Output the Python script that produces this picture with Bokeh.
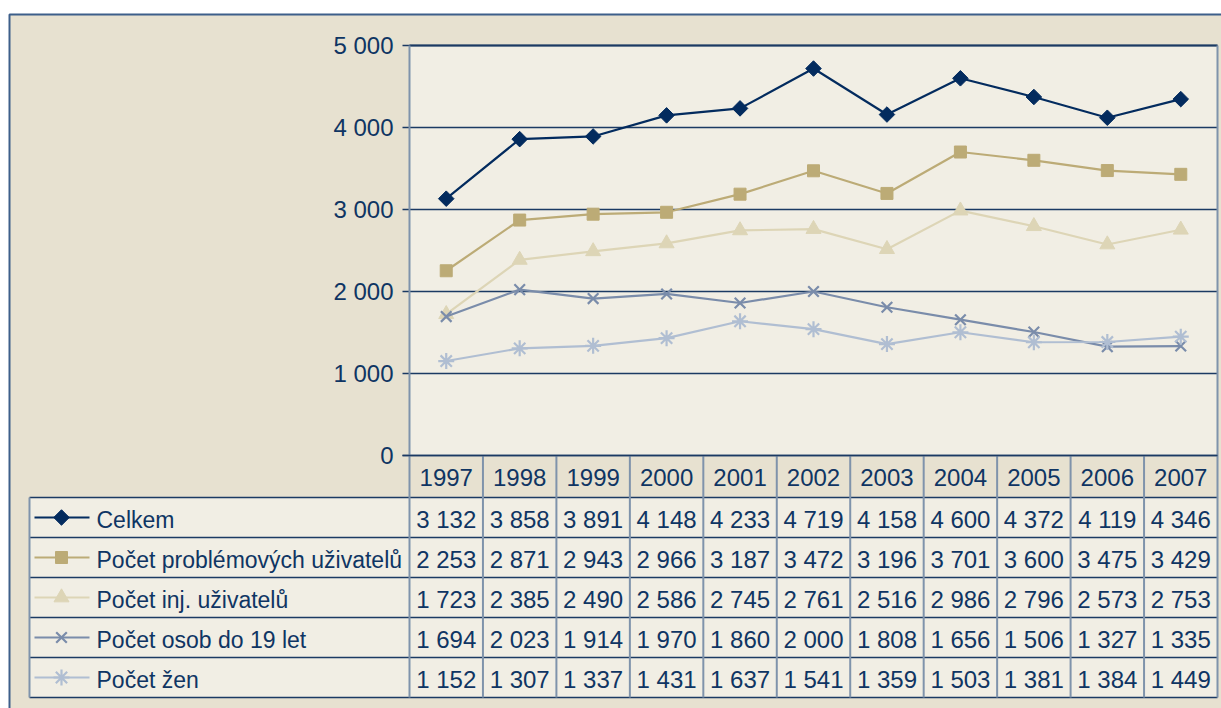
from bokeh.plotting import figure
from bokeh.models import Range1d
from bokeh.core.properties import value
from bokeh.embed import file_html
from bokeh.resources import INLINE

# ---------------- data ----------------
years = ["1997", "1998", "1999", "2000", "2001", "2002", "2003", "2004", "2005", "2006", "2007"]
celkem = [3132, 3858, 3891, 4148, 4233, 4719, 4158, 4600, 4372, 4119, 4346]
problemovi = [2253, 2871, 2943, 2966, 3187, 3472, 3196, 3701, 3600, 3475, 3429]
injekcni = [1723, 2385, 2490, 2586, 2745, 2761, 2516, 2986, 2796, 2573, 2753]
do19 = [1694, 2023, 1914, 1970, 1860, 2000, 1808, 1656, 1506, 1327, 1335]
zeny = [1152, 1307, 1337, 1431, 1637, 1541, 1359, 1503, 1381, 1384, 1449]
series_names = ["Celkem", "Počet problémových uživatelů", "Počet inj. uživatelů",
                "Počet osob do 19 let", "Počet žen"]
y_ticks = [0, 1000, 2000, 3000, 4000, 5000]
y_tick_labels = ["0", "1 000", "2 000", "3 000", "4 000", "5 000"]

series = [celkem, problemovi, injekcni, do19, zeny]
colors = ["#032b5e", "#bcab76", "#ddd5b6", "#7a8caa", "#b0bed2"]
markers = ["square", "square", "triangle", "x", "asterisk"]
msizes = [11, 12, 15, 15, 16]
mangles = [0.785398, 0, 0, 0, 0]

# ---------------- layout (page pixels) ----------------
FIG_W, FIG_H = 1221, 708
OFF = 0
PLOT_L, PLOT_R = 409, 1217
PLOT_T, PLOT_B = 45, 455
YMAX = 5000
CW = (PLOT_R - PLOT_L) / len(years)
YS = (PLOT_B - PLOT_T) / YMAX
HEAD_B = 497
ROW_H = 40
LEG_L = 29

TEXT = "#0f3563"
NAVY = "#1b3a63"
GRAYBLUE = "#7f93ab"
OUTER_BG = "#e7e1d0"
INNER_BG = "#f1eee4"
FONT = value("Liberation Sans")
NUM_SIZE = "24px"


def px2x(px):
    return (px - PLOT_L) / CW - 0.5


def py2y(py):
    return (PLOT_B - py) / YS


p = figure(width=FIG_W, height=FIG_H, output_backend="svg", toolbar_location=None,
           x_axis_type=None, y_axis_type=None, min_border=0,
           x_range=Range1d(px2x(OFF), px2x(OFF + FIG_W)),
           y_range=Range1d(py2y(OFF + FIG_H), py2y(OFF)))
p.outline_line_color = None
p.background_fill_color = "white"
p.border_fill_color = "white"
p.grid.visible = False

# outer frame
p.quad(left=[px2x(9)], right=[px2x(1240)], top=[py2y(14)], bottom=[py2y(730)],
       fill_color=OUTER_BG, line_color="#3d5f8a", line_width=2)
# plot area
n = len(years)
p.quad(left=[-0.5], right=[n - 0.5], bottom=[0], top=[YMAX], fill_color=INNER_BG, line_color=None)
# header cells
p.quad(left=[-0.5], right=[n - 0.5], top=[0], bottom=[py2y(HEAD_B)], fill_color=OUTER_BG, line_color=None)
# data cells
nrows = len(series)
p.quad(left=[px2x(LEG_L)], right=[n - 0.5], top=[py2y(HEAD_B)],
       bottom=[py2y(HEAD_B + ROW_H * nrows)], fill_color=INNER_BG, line_color=None)

# gridlines + ticks
p.segment(x0=[px2x(PLOT_L - 7)] * len(y_ticks), x1=[n - 0.5] * len(y_ticks),
          y0=y_ticks, y1=y_ticks, line_color=NAVY, line_width=1.3)
p.segment(x0=[-0.5], x1=[n - 0.5], y0=[YMAX], y1=[YMAX], line_color=NAVY, line_width=2)

# series
xs = list(range(n))
for vals, c, m, s, a in zip(series, colors, markers, msizes, mangles):
    p.line(xs, vals, line_color=c, line_width=2.2)
    if m in ("x", "asterisk"):
        p.scatter(xs, vals, marker=m, size=s, line_color=c, line_width=2.2)
    else:
        p.scatter(xs, vals, marker=m, size=s, angle=a, fill_color=c, line_color=c)

# table lines
row_tops = [HEAD_B + ROW_H * r for r in range(nrows + 1)]
p.segment(x0=[px2x(LEG_L)] * len(row_tops), x1=[n - 0.5] * len(row_tops),
          y0=[py2y(t) for t in row_tops], y1=[py2y(t) for t in row_tops],
          line_color=NAVY, line_width=1.5)
table_bottom = py2y(row_tops[-1])
vx = [i - 0.5 for i in range(n + 1)]
p.segment(x0=vx[1:-1], x1=vx[1:-1], y0=[0] * (n - 1), y1=[table_bottom] * (n - 1),
          line_color=GRAYBLUE, line_width=2)
p.segment(x0=[-0.5, n - 0.5, px2x(LEG_L)], x1=[-0.5, n - 0.5, px2x(LEG_L)],
          y0=[YMAX, YMAX, py2y(HEAD_B)], y1=[table_bottom] * 3,
          line_color=GRAYBLUE, line_width=2)
p.segment(x0=[px2x(PLOT_L - 7)], x1=[n - 0.5], y0=[0], y1=[0], line_color=NAVY, line_width=1.5)

# y tick labels
p.text(x=[px2x(393)] * len(y_ticks), y=y_ticks, text=y_tick_labels, text_align="right",
       text_baseline="middle", text_font=FONT, text_font_size=NUM_SIZE, text_color=TEXT)

# header years
p.text(x=xs, y=[py2y((PLOT_B + HEAD_B) / 2 + 1)] * n, text=years, text_align="center",
       text_baseline="middle", text_font=FONT, text_font_size=NUM_SIZE, text_color=TEXT)

# rows
for r, (name, vals, c, m, s, a) in enumerate(zip(series_names, series, colors, markers, msizes, mangles)):
    cy = py2y(HEAD_B + ROW_H * r + ROW_H / 2 + 2)
    p.text(x=xs, y=[cy] * n, text=[f"{v:,}".replace(",", " ") for v in vals],
           text_align="center", text_baseline="middle", text_font=FONT,
           text_font_size=NUM_SIZE, text_color=TEXT)
    p.text(x=[px2x(96)], y=[cy], text=[name], text_align="left", text_baseline="middle",
           text_font=FONT, text_font_size="23px", text_color=TEXT)
    ly = py2y(HEAD_B + ROW_H * r + ROW_H / 2)
    p.line([px2x(34), px2x(89)], [ly, ly], line_color=c, line_width=2.2)
    if m in ("x", "asterisk"):
        p.scatter([px2x(61)], [ly], marker=m, size=s, line_color=c, line_width=2.2)
    else:
        p.scatter([px2x(61)], [ly], marker=m, size=s, angle=a, fill_color=c, line_color=c)

open("out.html", "w").write(file_html(p, INLINE))
